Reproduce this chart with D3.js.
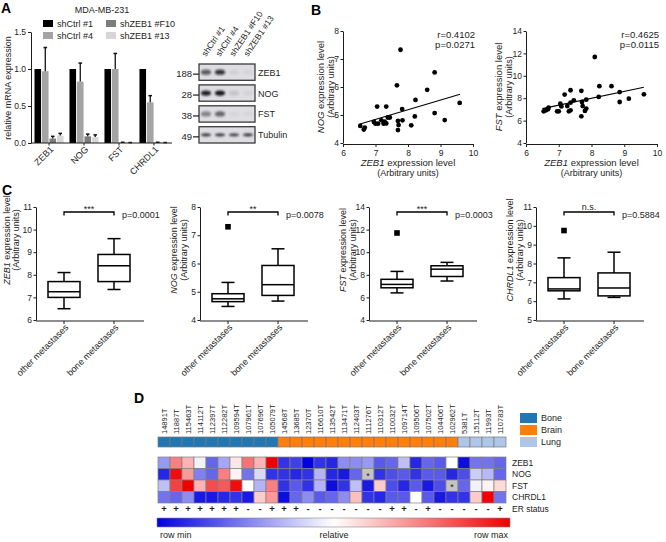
<!DOCTYPE html>
<html>
<head>
<meta charset="utf-8">
<script src="https://cdn.jsdelivr.net/npm/d3@7/dist/d3.min.js"></script>
<style>
html,body{margin:0;padding:0;background:#fff;}
svg{display:block;}
</style>
</head>
<body>
<svg id="fig" width="666" height="542"></svg>
<script>
// ================= DATA =================
// Panel A – qPCR
const genesA = ["ZEB1","NOG","FST","CHRDL1"];
const seriesA = ["shCtrl #1","shCtrl #4","shZEB1 #F10","shZEB1 #13"];
const ctrl1Vals = [1.00,1.00,1.00,1.00];
const ctrl4Vals = [0.97,0.83,1.00,0.55];
const f10Vals   = [0.06,0.09,0.006,0.008];
const z13Vals   = [0.10,0.08,0.004,0.004];
const ctrl1Err  = [0,0,0,0];
const ctrl4Err  = [0.32,0.25,0.21,0.09];
const f10Err    = [0.03,0.03,0.004,0.002];
const z13Err    = [0.03,0.03,0.002,0.002];
const ticksA = [0,0.5,1.0,1.5];

// Panel A – western blot (relative band intensity per lane)
const blotProteins = ["ZEB1","NOG","FST","Tubulin"];
const blotMarkers = ["188","28","38","49"];
const blotZEB1 = [0.65,0.85,0.06,0.04];
const blotNOG  = [0.95,1.00,0.12,0.05];
const blotFST  = [0.45,0.60,0.03,0.03];
const blotTub  = [0.80,0.80,0.75,0.80];

// Panel B – scatter ZEB1 vs NOG
const nogZEB1 = [6.53,6.64,6.67,6.95,7.00,7.05,7.08,7.18,7.25,7.28,7.33,7.33,7.38,7.44,7.66,7.69,7.71,7.69,7.77,7.82,7.83,8.10,8.23,8.21,8.59,8.82,8.82,9.13,9.59];
const nogVals = [4.61,4.48,4.55,4.75,4.69,5.30,4.69,4.81,4.69,4.76,5.30,4.70,4.91,4.91,6.06,4.79,4.64,4.46,7.33,5.21,4.81,4.63,5.54,4.95,5.90,6.52,5.07,4.82,5.43];
const nogFit = [[6.5,4.67],[9.6,5.74]];
const nogStats = ["r=0.4102","p=0.0271"];
// Panel B – scatter ZEB1 vs FST
const fstZEB1 = [6.54,6.61,6.67,6.69,6.95,7.00,7.05,7.08,7.18,7.26,7.31,7.36,7.36,7.36,7.46,7.69,7.71,7.73,7.69,7.80,7.84,7.84,8.10,8.24,8.22,8.61,8.86,8.86,9.14,9.60];
const fstVals = [6.83,6.92,7.01,7.16,6.83,6.83,7.51,7.27,8.32,7.30,6.83,8.71,7.60,6.92,7.81,8.66,7.66,7.30,6.38,6.86,7.07,7.87,11.68,9.07,8.11,9.07,8.55,7.66,7.96,8.35];
const fstFit = [[6.5,7.07],[9.6,8.98]];
const fstStats = ["r=0.4625","p=0.0115"];
const scatXTicks = [6,7,8,9,10];
const nogYTicks = [4,5,6,7,8];
const fstYTicks = [4,6,8,10,12,14];

// Panel C – box plots [min, q1, median, q3, max]
const boxGenes = ["ZEB1","NOG","FST","CHRDL1"];
const boxGroups = ["other metastases","bone metastases"];
const boxOther = [[6.5,7.0,7.25,7.7,8.1],[4.48,4.65,4.75,4.93,5.33],[6.4,6.85,7.15,7.6,8.3],[6.12,6.55,6.65,7.25,8.3]];
const boxBone  = [[7.35,7.7,8.4,8.9,9.6],[4.67,4.87,5.25,5.93,6.52],[7.45,7.85,8.5,8.8,9.1],[6.2,6.28,6.7,7.5,8.6]];
const boxOutOther = [null,7.3,11.7,9.75];
const boxSig = ["***","**","***","n.s."];
const boxP = ["p=0.0001","p=0.0078","p=0.0003","p=0.5884"];
const boxYDomains = [[6,11],[4,8],[4,14],[5,11]];
const boxYTicks = [[6,7,8,9,10,11],[4,5,6,7,8],[4,6,8,10,12,14],[5,6,7,8,9,10,11]];

// Panel D – heatmap
const samples = ["14891T","11887T","115463T","114112T","112397T","112282T","109594T","107961T","107696T","105079T",
  "14568T","13685T","12370T","116610T","113542T","113471T","112403T","111276T","110312T","110032T","109714T","109506T","107502T","104406T","102962T",
  "5381T","15112T","11993T","110783T"];
const sites = ["Bone","Bone","Bone","Bone","Bone","Bone","Bone","Bone","Bone","Bone",
  "Brain","Brain","Brain","Brain","Brain","Brain","Brain","Brain","Brain","Brain","Brain","Brain","Brain","Brain","Brain",
  "Lung","Lung","Lung","Lung"];
const siteNames = ["Bone","Brain","Lung"];
const erStatus = ["+","+","+","+","+","+","+","-","-","+","+","+","-","-","-","-","-","-","-","+","+","-","+","-","-","-","-","-","+"];
const heatGenes = ["ZEB1","NOG","FST","CHRDL1"];
const heatZEB1 = [-0.4,0.5,0.3,-0.05,-0.6,-0.35,0.1,0.55,0.3,1.0, -0.8,-0.75,-1.0,-0.8,-0.85,-0.45,-0.45,-0.4,-0.65,-0.6,-0.25,-0.85,-0.6,-0.65,0.0, -0.95,-0.55,-0.55,-0.6];
const heatNOG  = [-0.85,0.95,0.4,-0.5,-0.6,0.5,0.05,-0.55,-0.15,-0.8, -0.8,-0.85,-0.8,-0.3,-0.85,-0.9,-0.6,null,-0.8,-0.7,-0.65,-0.8,-0.65,-0.65,-0.85, -0.7,-0.2,-0.28,-0.6];
const heatFST  = [-0.25,0.75,1.0,0.3,0.7,0.65,0.95,0.0,-0.3,0.5, -0.8,-0.65,-0.8,-0.3,-0.95,-0.8,-0.25,-0.9,0.2,-0.7,-0.85,-0.65,-0.9,-0.7,null, -0.6,-0.05,0.05,0.15];
const heatCHRDL1 = [-0.55,-0.6,-0.45,-0.9,-0.9,-0.85,-0.8,-0.9,0.2,0.4, -0.95,-0.6,-0.45,-0.65,-0.6,-0.45,0.25,-0.8,-0.85,-0.65,-0.65,0.0,-0.65,-0.9,-0.8, -0.8,0.2,1.0,-0.55];
const gradLabels = ["row min","relative","row max"];

// ================= DRAWING =================
const svg = d3.select("#fig");
const FF = '"Liberation Sans", Arial, Helvetica, sans-serif';
const INK = "#1c1c1c";
svg.attr("font-family", FF);

function label(parent, x, y, str, o = {}) {
  const t = parent.append("text").attr("x", x).attr("y", y).text(str)
    .attr("font-size", o.size || 9).attr("fill", o.fill || INK)
    .attr("text-anchor", o.anchor || "start");
  if (o.weight) t.attr("font-weight", o.weight);
  if (o.transform) t.attr("transform", o.transform);
  return t;
}
function geneLabel(parent, gene, rest, o = {}) {
  const t = parent.append("text").attr("x", o.x || 0).attr("y", o.y || 0)
    .attr("font-size", o.size || 9).attr("fill", INK).attr("text-anchor", o.anchor || "middle");
  if (o.transform) t.attr("transform", o.transform);
  t.append("tspan").attr("font-style", "italic").text(gene);
  t.append("tspan").text(rest);
  return t;
}
function styleAxis(g, size = 8.5) {
  g.attr("font-family", FF).attr("font-size", size);
  g.selectAll("path.domain").attr("stroke", INK).attr("stroke-width", 1);
  g.selectAll(".tick line").attr("stroke", INK).attr("stroke-width", 1);
  g.selectAll(".tick text").attr("fill", INK);
}
const boldLetter = (x, y, s) => label(svg, x, y, s, {size: 14, weight: "bold", fill: "#000"});

// ---------- Panel A ----------
boldLetter(1, 13, "A");
const gA = svg.append("g");
label(gA, 102, 13, "MDA-MB-231", {anchor: "middle"});
const yA = d3.scaleLinear().domain([0, 1.5]).range([143, 32]);
const xA = d3.scaleBand().domain(genesA).range([31, 172]).paddingInner(0.17).paddingOuter(0.1);
const xSA = d3.scaleBand().domain(seriesA).range([0, xA.bandwidth()]).paddingInner(0.12);
const valsA = [ctrl1Vals, ctrl4Vals, f10Vals, z13Vals];
const errsA = [ctrl1Err, ctrl4Err, f10Err, z13Err];
const colA = ["#000000", "#a4a4a4", "#7c7c7c", "#d6d6d6"];
seriesA.forEach((s, si) => {
  const grp = gA.append("g");
  grp.selectAll("rect").data(genesA).join("rect")
    .attr("x", d => xA(d) + xSA(s))
    .attr("width", xSA.bandwidth())
    .attr("y", (d, i) => yA(valsA[si][i]))
    .attr("height", (d, i) => yA(0) - yA(valsA[si][i]))
    .attr("fill", colA[si]);
  genesA.forEach((d, i) => {
    const e = errsA[si][i]; if (!e) return;
    const cx = xA(d) + xSA(s) + xSA.bandwidth() / 2;
    const top = yA(valsA[si][i] + e);
    grp.append("line").attr("x1", cx).attr("x2", cx).attr("y1", yA(valsA[si][i])).attr("y2", top)
      .attr("stroke", "#111").attr("stroke-width", 1.3);
    grp.append("line").attr("x1", cx - 1.8).attr("x2", cx + 1.8).attr("y1", top).attr("y2", top)
      .attr("stroke", "#111").attr("stroke-width", 1.5);
  });
});
// legend
seriesA.forEach((s, i) => {
  const col = Math.floor(i / 2), row = i % 2;
  const lx = [43, 106][col], ly = [20, 32][row];
  gA.append("rect").attr("x", lx).attr("y", ly).attr("width", 10).attr("height", 7).attr("fill", colA[i]);
  label(gA, lx + 14, ly + 7, s);
});
const axA = gA.append("g").attr("transform", "translate(31,0)")
  .call(d3.axisLeft(yA).tickValues(ticksA).tickFormat(d3.format(".1f")).tickSize(3).tickPadding(2).tickSizeOuter(0));
styleAxis(axA, 8.5);
gA.append("line").attr("x1", 31).attr("x2", 172).attr("y1", yA(0)).attr("y2", yA(0)).attr("stroke", INK);
genesA.forEach(g => {
  const cx = xA(g) + xA.bandwidth() / 2;
  gA.append("line").attr("x1", cx).attr("x2", cx).attr("y1", yA(0)).attr("y2", yA(0) + 2.5).attr("stroke", INK);
  label(gA, 0, 0, g, {anchor: "end", transform: `translate(${cx + 5},${yA(0) + 7}) rotate(-45)`});
});
label(gA, 0, 0, "relative mRNA expression", {anchor: "middle", transform: "translate(11,88) rotate(-90)"});

// ---------- Western blot ----------
const gW = svg.append("g");
const defs = svg.append("defs");
defs.append("filter").attr("id", "blur").attr("x", "-50%").attr("y", "-100%").attr("width", "200%").attr("height", "300%")
  .append("feGaussianBlur").attr("stdDeviation", 0.9);
const laneX = d3.scaleBand().domain(seriesA).range([199, 255]);
const rowY = d3.scaleBand().domain(blotProteins).range([64, 143]).paddingInner(0.22);
const blotData = [blotZEB1, blotNOG, blotFST, blotTub];
blotProteins.forEach((p, pi) => {
  const y0 = rowY(p), h = rowY.bandwidth();
  gW.append("rect").attr("x", 199).attr("y", y0).attr("width", 56).attr("height", h)
    .attr("fill", "#dedee2").attr("stroke", "#3a3a3a").attr("stroke-width", 1.3);
  gW.selectAll(null).data(seriesA).join("ellipse")
    .attr("cx", d => laneX(d) + laneX.bandwidth() / 2)
    .attr("cy", y0 + h / 2)
    .attr("rx", laneX.bandwidth() * 0.36)
    .attr("ry", pi === 3 ? 1.6 : 2.6)
    .attr("fill", "#15151f")
    .attr("opacity", (d, i) => blotData[pi][i])
    .attr("filter", "url(#blur)");
  gW.append("line").attr("x1", 193).attr("x2", 199).attr("y1", y0 + h / 2 + 2).attr("y2", y0 + h / 2 + 2)
    .attr("stroke", INK).attr("stroke-width", 1.2);
  label(gW, 192, y0 + h / 2 + 5, blotMarkers[pi], {anchor: "end", size: 9.5});
  label(gW, 258, y0 + h / 2 + 3.5, p, {size: 9});
});
seriesA.forEach(s => {
  const cx = laneX(s) + laneX.bandwidth() / 2;
  label(gW, 0, 0, s, {size: 8.5, transform: `translate(${cx},${57}) rotate(-56)`});
});

// ---------- Panel B ----------
boldLetter(311, 15, "B");
function scatter(cfg) {
  const g = svg.append("g");
  const x = d3.scaleLinear().domain([6, 10]).range(cfg.xr);
  const y = d3.scaleLinear().domain(cfg.yd).range(cfg.yr);
  const ay = g.append("g").attr("transform", `translate(${cfg.xr[0]},0)`)
    .call(d3.axisLeft(y).tickValues(cfg.yt).tickFormat(d3.format("d")).tickSize(2.5).tickPadding(1.5).tickSizeOuter(0));
  styleAxis(ay, 8.5);
  const ax = g.append("g").attr("transform", `translate(0,${cfg.yr[0] + 1})`)
    .call(d3.axisBottom(x).tickValues(scatXTicks).tickFormat(d3.format("d")).tickSize(3).tickSizeOuter(0));
  styleAxis(ax, 8.5);
  g.selectAll("circle").data(cfg.xs).join("circle")
    .attr("cx", d => x(d)).attr("cy", (d, i) => y(cfg.ys[i])).attr("r", 2.4).attr("fill", "#000");
  g.append("line").attr("x1", x(cfg.fit[0][0])).attr("y1", y(cfg.fit[0][1]))
    .attr("x2", x(cfg.fit[1][0])).attr("y2", y(cfg.fit[1][1])).attr("stroke", "#000").attr("stroke-width", 1.1);
  label(g, cfg.xr[1] + 2, 38, cfg.stats[0], {anchor: "end", size: 9.5});
  label(g, cfg.xr[1] + 2, 48, cfg.stats[1], {anchor: "end", size: 9.5});
  const mx = (cfg.xr[0] + cfg.xr[1]) / 2;
  geneLabel(g, "ZEB1", " expression level", {x: mx, y: 166, size: 9.5});
  label(g, mx, 176, "(Arbitrary units)", {anchor: "middle", size: 9});
  const my = (cfg.yr[0] + cfg.yr[1]) / 2;
  geneLabel(g, cfg.gene, " expression level", {size: 9.5, transform: `translate(${cfg.xr[0] - cfg.tOff[0]},${my}) rotate(-90)`});
  label(g, 0, 0, "(Arbitrary units)", {anchor: "middle", size: 9, transform: `translate(${cfg.xr[0] - cfg.tOff[1]},${my}) rotate(-90)`});
}
scatter({xr: [343, 473], yr: [143, 31], yd: [4, 8], yt: nogYTicks, xs: nogZEB1, ys: nogVals, fit: nogFit, stats: nogStats, gene: "NOG", tOff: [19, 9]});
scatter({xr: [526, 657], yr: [143, 31], yd: [4, 14], yt: fstYTicks, xs: fstZEB1, ys: fstVals, fit: fstFit, stats: fstStats, gene: "FST", tOff: [24, 14]});

// ---------- Panel C ----------
boldLetter(2, 195, "C");
const boxAxisX = [36, 200, 369, 536];
boxGenes.forEach((gene, i) => {
  const g = svg.append("g");
  const a0 = boxAxisX[i];
  const y = d3.scaleLinear().domain(boxYDomains[i]).range([320, 207]);
  const x = d3.scalePoint().domain(boxGroups).range([a0 + 28, a0 + 78]);
  const ay = g.append("g").attr("transform", `translate(${a0},0)`)
    .call(d3.axisLeft(y).tickValues(boxYTicks[i]).tickFormat(d3.format("d")).tickSize(2.5).tickPadding(1.5).tickSizeOuter(0));
  styleAxis(ay, 8.5);
  g.append("line").attr("x1", a0).attr("x2", a0 + 108).attr("y1", 321).attr("y2", 321).attr("stroke", INK);
  const bw = 32, cw = 13;
  [boxOther[i], boxBone[i]].forEach((b, k) => {
    const cx = x(boxGroups[k]);
    const ln = (x1, y1, x2, y2) => g.append("line").attr("x1", x1).attr("y1", y1).attr("x2", x2).attr("y2", y2)
      .attr("stroke", "#000").attr("stroke-width", 1.5);
    ln(cx, y(b[0]), cx, y(b[1]));
    ln(cx, y(b[3]), cx, y(b[4]));
    ln(cx - cw / 2, y(b[0]), cx + cw / 2, y(b[0]));
    ln(cx - cw / 2, y(b[4]), cx + cw / 2, y(b[4]));
    g.append("rect").attr("x", cx - bw / 2).attr("y", y(b[3])).attr("width", bw).attr("height", y(b[1]) - y(b[3]))
      .attr("fill", "none").attr("stroke", "#000").attr("stroke-width", 1.5);
    ln(cx - bw / 2, y(b[2]), cx + bw / 2, y(b[2]));
    g.append("line").attr("x1", cx).attr("x2", cx).attr("y1", 321).attr("y2", 324).attr("stroke", INK);
    label(g, 0, 0, boxGroups[k], {anchor: "end", size: 9, transform: `translate(${cx + 5},${328}) rotate(-45)`});
  });
  if (boxOutOther[i] != null) {
    const cx = x(boxGroups[0]);
    g.append("rect").attr("x", cx - 2.8).attr("y", y(boxOutOther[i]) - 2.8).attr("width", 5.6).attr("height", 5.6).attr("fill", "#000");
  }
  const x1 = x(boxGroups[0]), x2 = x(boxGroups[1]);
  g.append("path").attr("d", `M${x1},215.5V212H${x2}V215.5`).attr("fill", "none").attr("stroke", "#000").attr("stroke-width", 1.3);
  label(g, (x1 + x2) / 2, boxSig[i] === "n.s." ? 209.5 : 212, boxSig[i], {anchor: "middle", size: 9});
  label(g, x2 + 8, 218, boxP[i], {size: 9});
  const my = i === 0 ? 240 : 250;
  const off = i === 0 ? [26, 17] : [23, 13.5];
  geneLabel(g, gene, " expression level", {size: 9, transform: `translate(${a0 - off[0]},${my}) rotate(-90)`});
  label(g, 0, 0, "(Arbitrary units)", {anchor: "middle", size: 9, transform: `translate(${a0 - off[1]},${my}) rotate(-90)`});
});

// ---------- Panel D ----------
boldLetter(134, 403, "D");
const gD = svg.append("g");
const xD = d3.scaleBand().domain(samples).range([158, 506]);
const siteColor = d3.scaleOrdinal().domain(siteNames).range(["#2077b4", "#ff7f0e", "#aec7e8"]);
const heatColor = d3.scaleLinear().domain([-1, 0, 1]).range(["#0000e0", "#ffffff", "#f00000"]);
samples.forEach(s => {
  label(gD, 0, 0, s, {anchor: "start", size: 7.5, transform: `translate(${xD(s) + xD.bandwidth() / 2 + 2.8},434) rotate(-90)`});
});
gD.selectAll("rect.site").data(samples).join("rect").attr("class", "site")
  .attr("x", d => xD(d)).attr("y", 437).attr("width", xD.bandwidth()).attr("height", 10)
  .attr("fill", (d, i) => siteColor(sites[i])).attr("stroke", "#7a7a7a").attr("stroke-width", 0.7);
const heatRows = [heatZEB1, heatNOG, heatFST, heatCHRDL1];
const yD = d3.scaleBand().domain(heatGenes).range([457, 503]);
heatGenes.forEach((gname, r) => {
  gD.selectAll(null).data(samples).join("rect")
    .attr("x", d => xD(d)).attr("y", yD(gname)).attr("width", xD.bandwidth()).attr("height", yD.bandwidth())
    .attr("fill", (d, i) => heatRows[r][i] == null ? "#c4c4c4" : heatColor(heatRows[r][i]))
    .attr("stroke", "#808080").attr("stroke-width", 0.7);
  heatRows[r].forEach((v, i) => {
    if (v == null) label(gD, xD(samples[i]) + xD.bandwidth() / 2, yD(gname) + yD.bandwidth() / 2 + 4.5, "*", {anchor: "middle", size: 9});
  });
  label(gD, 512, yD(gname) + yD.bandwidth() / 2 + 3.2, gname, {size: 8.5});
});
samples.forEach((s, i) => {
  label(gD, xD(s) + xD.bandwidth() / 2, 512, erStatus[i], {anchor: "middle", size: 9.5, weight: "bold"});
});
label(gD, 512, 512, "ER status", {size: 8.5});
// site legend
siteNames.forEach((n, i) => {
  gD.append("rect").attr("x", 520).attr("y", 413 + i * 12).attr("width", 17).attr("height", 10).attr("fill", siteColor(n));
  label(gD, 541, 421 + i * 12, n, {size: 9});
});
// gradient bar
const lg = defs.append("linearGradient").attr("id", "grad");
heatColor.domain().forEach(v => {
  lg.append("stop").attr("offset", (v + 1) / 2).attr("stop-color", heatColor(v));
});
gD.append("rect").attr("x", 157).attr("y", 518).attr("width", 353).attr("height", 9)
  .attr("fill", "url(#grad)").attr("stroke", "#888").attr("stroke-width", 0.6);
label(gD, 160, 538, gradLabels[0], {size: 9});
label(gD, 334, 538, gradLabels[1], {size: 9, anchor: "middle"});
label(gD, 508, 538, gradLabels[2], {size: 9, anchor: "end"});
</script>
</body>
</html>
